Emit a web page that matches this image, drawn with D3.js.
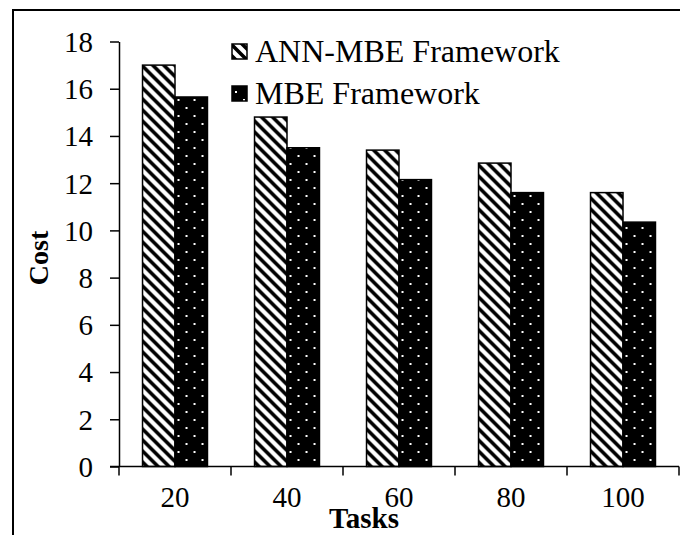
<!DOCTYPE html>
<html>
<head>
<meta charset="utf-8">
<script src="https://cdn.jsdelivr.net/npm/d3@7"></script>
<style>
  html, body { margin: 0; padding: 0; background: #fff; }
  svg { display: block; }
  text { font-family: "Liberation Serif", "Times New Roman", serif; fill: #000; }
</style>
</head>
<body>
<svg id="chart" width="680" height="535"></svg>
<script>
// Cost per number of tasks for the two frameworks
const categories = ["20", "40", "60", "80", "100"];
const seriesNames = ["ANN-MBE Framework", "MBE Framework"];
const annMbeCost = [17.0, 14.8, 13.4, 12.85, 11.6];
const mbeCost = [15.65, 13.5, 12.15, 11.6, 10.35];
const yTicks = [0, 2, 4, 6, 8, 10, 12, 14, 16, 18];

const svg = d3.select("#chart");
const defs = svg.append("defs");

// Wide downward diagonal hatch
const hw = 11;
const hatch = defs.append("pattern")
  .attr("id", "hatch").attr("patternUnits", "userSpaceOnUse")
  .attr("width", hw).attr("height", hw);
hatch.append("rect").attr("width", hw).attr("height", hw).attr("fill", "#fff");
hatch.append("path")
  .attr("d", `M0,0 L${hw},${hw} M-2,${hw - 2} l4,4 M${hw - 2},-2 l4,4`)
  .attr("stroke", "#000").attr("stroke-width", 3.6).attr("fill", "none");

// Black fill with staggered white dots
const dw = 16;
const dots = defs.append("pattern")
  .attr("id", "dots").attr("patternUnits", "userSpaceOnUse")
  .attr("width", dw).attr("height", dw);
dots.append("rect").attr("width", dw).attr("height", dw).attr("fill", "#000");
dots.selectAll("rect.d").data([[3, 3], [11, 11]]).enter().append("rect")
  .attr("class", "d").attr("x", d => d[0]).attr("y", d => d[1])
  .attr("width", 2).attr("height", 2).attr("fill", "#fff");

const fills = ["url(#hatch)", "url(#dots)"];

// Outer frame
svg.append("rect")
  .attr("x", 13).attr("y", 10).attr("width", 700).attr("height", 560)
  .attr("fill", "none").attr("stroke", "#000").attr("stroke-width", 2);

const x0 = d3.scaleBand().domain(categories).range([119, 679])
  .paddingInner(0.42).paddingOuter(0.21);
const x1 = d3.scaleBand().domain(seriesNames).range([0, x0.bandwidth()]);
const y = d3.scaleLinear().domain([0, 18]).range([466.5, 41.5]);

// Bars
const rows = categories.map((c, i) => ({ cat: c, vals: [annMbeCost[i], mbeCost[i]] }));
const groups = svg.append("g").selectAll("g").data(rows).enter().append("g")
  .attr("transform", d => `translate(${x0(d.cat)},0)`);
groups.selectAll("rect").data(d => d.vals.map((v, j) => ({ v, j }))).enter().append("rect")
  .attr("x", d => x1(seriesNames[d.j]))
  .attr("y", d => y(d.v))
  .attr("width", x1.bandwidth())
  .attr("height", d => y(0) - y(d.v))
  .attr("fill", d => fills[d.j])
  .attr("stroke", "#000").attr("stroke-width", 1.5);

// Y axis
const yAxis = svg.append("g").attr("transform", "translate(119,0)")
  .call(d3.axisLeft(y).tickValues(yTicks).tickSize(9).tickPadding(17).tickSizeOuter(0));
yAxis.select(".domain").attr("stroke", "#000").attr("stroke-width", 1.5);
yAxis.selectAll(".tick line").attr("stroke", "#000").attr("stroke-width", 1.5);
yAxis.selectAll(".tick text")
  .style("font-family", "Liberation Serif").style("font-size", "29px").attr("dy", "0.34em");

// X axis with ticks at category boundaries
const xAxis = svg.append("g").attr("transform", `translate(0,${y(0)})`);
xAxis.append("line").attr("x1", 110).attr("x2", 679).attr("stroke", "#000").attr("stroke-width", 1.5);
const edges = d3.range(categories.length + 1).map(i => x0.range()[0] + i * x0.step());
xAxis.selectAll("line.t").data(edges).enter().append("line")
  .attr("class", "t").attr("x1", d => d).attr("x2", d => d)
  .attr("y1", 0).attr("y2", 9).attr("stroke", "#000").attr("stroke-width", 1.5);
xAxis.selectAll("text").data(categories).enter().append("text")
  .attr("x", d => x0(d) + x0.bandwidth() / 2).attr("y", 40)
  .attr("text-anchor", "middle").style("font-size", "29px").text(d => d);

// Axis titles
svg.append("text").attr("x", 364).attr("y", 528).attr("text-anchor", "middle")
  .style("font-size", "29px").style("font-weight", "bold").text("Tasks");
svg.append("text").attr("transform", "translate(48,258) rotate(-90)")
  .attr("text-anchor", "middle")
  .style("font-size", "28px").style("font-weight", "bold").text("Cost");

// Legend
const legend = svg.append("g");
seriesNames.forEach((name, i) => {
  const ly = 44 + i * 42;
  legend.append("rect").attr("x", 232).attr("y", ly).attr("width", 15).attr("height", 15)
    .attr("fill", fills[i]).attr("stroke", "#000").attr("stroke-width", 1.5);
  legend.append("text").attr("x", 255).attr("y", ly + 18)
    .style("font-size", "32px").text(name);
});
</script>
</body>
</html>
